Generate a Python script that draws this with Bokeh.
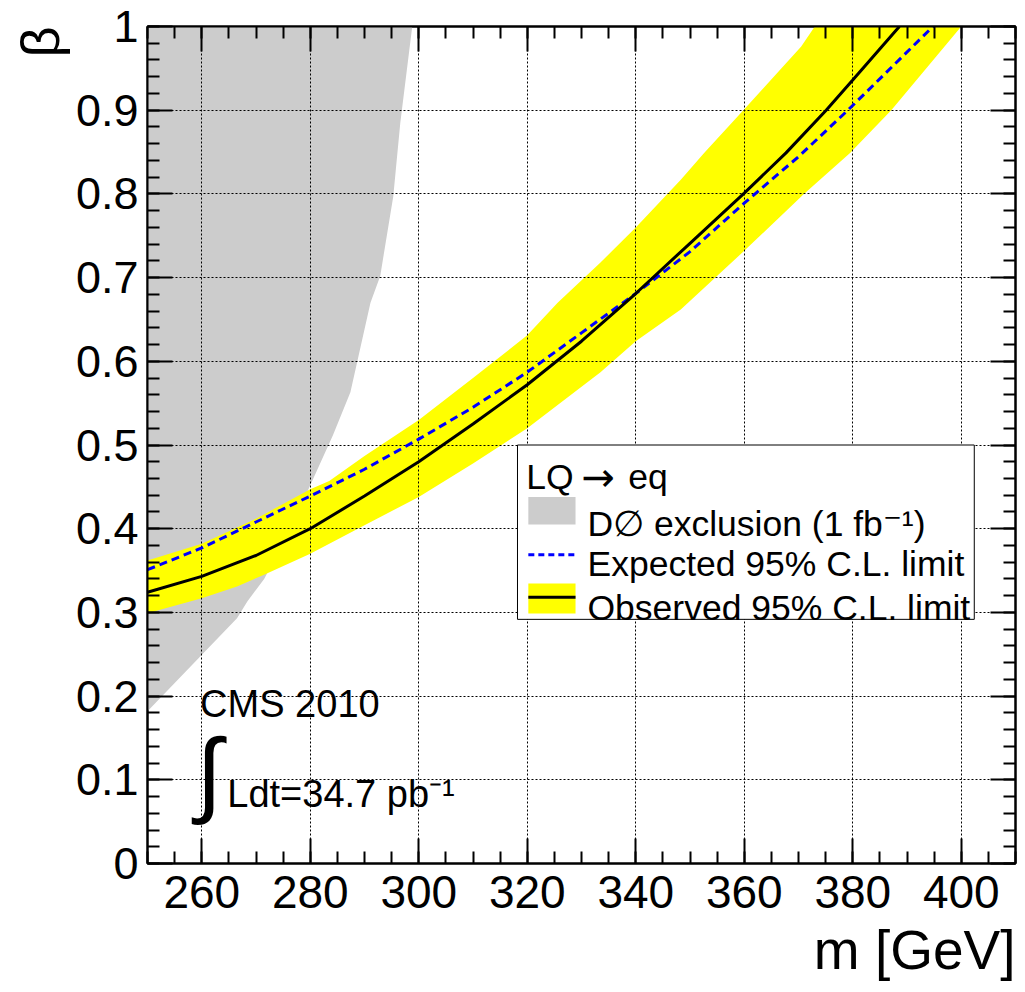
from bokeh.plotting import figure
from bokeh.models import (Range1d, LinearAxis, SingleIntervalTicker, Title, Label,
                          CustomJSTickFormatter)
from bokeh.embed import file_html
from bokeh.resources import INLINE

FONT = "Liberation Sans"

# ---------------- data ----------------
# observed 95% CL limit (black solid)
m_obs = [250, 260, 270, 280, 290, 300, 310, 320, 330, 340, 350, 360, 367.7, 375.1, 380, 388.6]
b_obs = [0.324, 0.343, 0.368, 0.400, 0.439, 0.480, 0.525, 0.572, 0.624, 0.681, 0.741, 0.801,
         0.849, 0.900, 0.936, 1.000]

# expected 95% CL limit (blue dashed)
m_exp = [250, 260, 270, 280, 290, 300, 310, 320, 330, 340, 350, 360, 370.1, 379.1, 394.8]
b_exp = [0.351, 0.377, 0.408, 0.439, 0.471, 0.507, 0.545, 0.587, 0.634, 0.681, 0.731, 0.789,
         0.845, 0.900, 1.000]

# yellow band, upper and lower edges
m_up = [250, 260, 270, 280, 283.5, 290, 300, 310, 320, 325.6, 333.5, 340, 348.3, 352.6, 360, 370.5, 373]
b_up = [0.362, 0.382, 0.412, 0.447, 0.457, 0.487, 0.530, 0.580, 0.631, 0.670, 0.718, 0.760,
        0.817, 0.849, 0.901, 0.976, 1.000]
m_lo = [250, 260, 266.5, 271.5, 280, 290, 300, 310, 320, 333.5, 340, 348.3, 360, 371, 379.5, 387.1, 400]
b_lo = [0.299, 0.317, 0.331, 0.345, 0.370, 0.404, 0.438, 0.478, 0.520, 0.587, 0.624, 0.662,
        0.732, 0.800, 0.849, 0.900, 1.000]

# D0 exclusion boundary (grey region lies to the left)
m_d0 = [250, 266.5, 268.4, 271.5, 276, 280, 284.2, 287.4, 291.1, 292.9, 295.3, 296.6, 298.8]
b_d0 = [0.182, 0.293, 0.313, 0.340, 0.395, 0.452, 0.512, 0.563, 0.670, 0.702, 0.797, 0.885, 1.000]

X_MIN, X_MAX = 250, 410
Y_MIN, Y_MAX = 0, 1

# ---------------- figure ----------------
p = figure(frame_width=868, frame_height=837,
           x_range=Range1d(X_MIN, X_MAX), y_range=Range1d(Y_MIN, Y_MAX),
           output_backend="svg", toolbar_location=None,
           min_border_left=147, min_border_top=26, min_border_right=2, min_border_bottom=124,
           background_fill_color="white", border_fill_color="white",
           outline_line_color="black", outline_line_width=2)

xt = SingleIntervalTicker(interval=20, num_minor_ticks=4)
yt = SingleIntervalTicker(interval=0.1, num_minor_ticks=5)

p.xaxis.ticker = xt
p.yaxis.ticker = yt
p.xgrid.ticker = xt
p.ygrid.ticker = yt
p.yaxis.formatter = CustomJSTickFormatter(code="return tick.toFixed(1).replace(/\\.0$/, '');")

for ax in [p.xaxis[0], p.yaxis[0]]:
    ax.axis_line_width = 2
    ax.major_tick_in = 25
    ax.major_tick_out = 0
    ax.minor_tick_in = 12
    ax.minor_tick_out = 0
    ax.major_tick_line_width = 2
    ax.minor_tick_line_width = 2
    ax.major_label_text_font = FONT
    ax.major_label_text_font_size = "46px"
    ax.major_label_text_color = "black"
p.yaxis.major_label_text_font_size = "45px"
p.xaxis.major_label_standoff = 12
p.yaxis.major_label_standoff = 9

for loc, tk in [("right", yt), ("above", xt)]:
    ax = LinearAxis(ticker=tk, formatter=CustomJSTickFormatter(code="return '';"),
                    major_label_text_font_size="0px", major_label_standoff=0,
                    axis_line_width=2, major_tick_in=25, major_tick_out=0,
                    minor_tick_in=12, minor_tick_out=0,
                    major_tick_line_width=2, minor_tick_line_width=2)
    p.add_layout(ax, loc)

for g in [p.xgrid[0], p.ygrid[0]]:
    g.grid_line_color = "black"
    g.grid_line_dash = "2 2"
    g.grid_line_width = 1

p.add_layout(Title(text="m [GeV]", align="right", text_font=FONT, text_font_size="55px",
                   text_font_style="normal", text_color="black", standoff=12), "below")
p.add_layout(Title(text="β", align="right", text_font=FONT, text_font_size="54px",
                   text_font_style="normal", text_color="black", standoff=5), "left")

# ---------------- filled regions ----------------
gx = m_d0 + [X_MIN]
gy = b_d0 + [Y_MAX]
p.patch(gx, gy, fill_color="#cccccc", line_color=None, level="image")

bx = m_up + m_lo[::-1]
by = b_up + b_lo[::-1]
p.patch(bx, by, fill_color="#ffff00", line_color=None, level="image")

# ---------------- curves ----------------
p.line(m_exp, b_exp, line_color="#0000ff", line_width=3, line_dash="8 5")
p.line(m_obs, b_obs, line_color="black", line_width=3)

# ---------------- legend (drawn by hand, ROOT style) ----------------
LX0, LX1, LY0, LY1 = 318.2, 402.4, 0.2917, 0.5
p.quad(left=[LX0], right=[LX1], bottom=[LY0], top=[LY1], fill_color="white",
       line_color="black", line_width=1)
SX0, SX1 = 320.2, 328.9
p.quad(left=[SX0], right=[SX1], bottom=[0.405], top=[0.438], fill_color="#cccccc", line_color=None)
p.line([SX0, SX1], [0.369, 0.369], line_color="#0000ff", line_width=3, line_dash="6 4")
p.quad(left=[SX0], right=[SX1], bottom=[0.2988], top=[0.3345], fill_color="#ffff00", line_color=None)
p.line([SX0, SX1], [0.318, 0.318], line_color="black", line_width=3)

LFS = "35.5px"
TX = 331.1
# header "LQ → eq" (arrow in a font with a longer arrow glyph)
p.add_layout(Label(x=319.8, y=0.462, text="LQ", text_font=FONT, text_font_size=LFS,
                   text_baseline="alphabetic", text_color="black"))
p.add_layout(Label(x=330.0, y=0.462, text="→", text_font="DejaVu Sans", text_font_size="40px",
                   text_baseline="alphabetic", text_color="black"))
p.add_layout(Label(x=338.6, y=0.462, text="eq", text_font=FONT, text_font_size=LFS,
                   text_baseline="alphabetic", text_color="black"))
for txt, xx, yy in [("D∅ exclusion (1 fb⁻¹)", TX, 0.406),
                    ("Expected 95% C.L. limit", TX, 0.358),
                    ("Observed 95% C.L. limit", TX, 0.3048)]:
    p.add_layout(Label(x=xx, y=yy, text=txt, text_font=FONT, text_font_size=LFS,
                       text_baseline="alphabetic", text_align="left", text_color="black"))

# ---------------- CMS labels ----------------
p.add_layout(Label(x=259.7, y=0.1905, text="CMS 2010", text_font=FONT, text_font_size="38px",
                   text_baseline="alphabetic", text_color="black"))
p.add_layout(Label(x=259.0, y=0.109, text="∫", text_font=FONT, text_font_size="94px",
                   text_baseline="middle", text_color="black"))
p.add_layout(Label(x=264.7, y=0.0833, text="Ldt=34.7 pb⁻¹", text_font=FONT, text_font_size="38px",
                   text_baseline="alphabetic", text_color="black"))

open("out.html", "w").write(file_html(p, INLINE))
